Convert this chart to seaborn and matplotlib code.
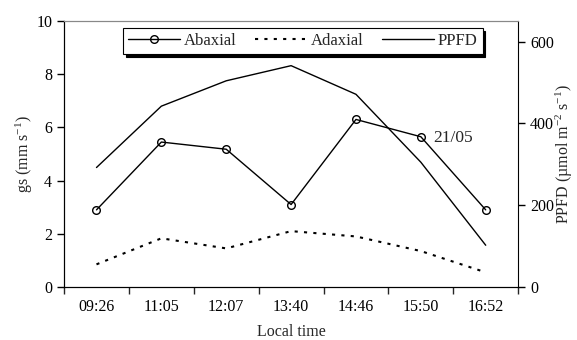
import matplotlib
matplotlib.use("Agg")
import matplotlib.pyplot as plt
import seaborn as sns
import pandas as pd
from matplotlib.ticker import FixedLocator

times = ["09:26", "11:05", "12:07", "13:40", "14:46", "15:50", "16:52"]
abaxial = [2.9, 5.45, 5.18, 3.1, 6.3, 5.65, 2.9]
adaxial = [0.85, 1.83, 1.45, 2.1, 1.9, 1.35, 0.55]
ppfd = [292, 442, 504, 541, 471, 305, 102]

sns.set_style("white")
plt.rcParams['font.family'] = ['Liberation Serif', 'DejaVu Serif']
plt.rcParams['mathtext.fontset'] = 'custom'
plt.rcParams['mathtext.rm'] = 'Liberation Serif'
plt.rcParams['mathtext.it'] = 'Liberation Serif'

df = pd.DataFrame({"time": times, "Abaxial": abaxial, "Adaxial": adaxial, "PPFD": ppfd})

fig = plt.figure(figsize=(5.77, 3.40), dpi=100)
ax = fig.add_axes([0.111, 0.156, 0.787, 0.782])
ax2 = ax.twinx()

sns.lineplot(data=df, x="time", y="Abaxial", ax=ax, color="black", lw=1,
             marker="o", markersize=5.5, markerfacecolor="none",
             markeredgecolor="black", markeredgewidth=1, label="Abaxial", legend=False)
sns.lineplot(data=df, x="time", y="Adaxial", ax=ax, color="black", lw=1.5,
             linestyle=(0, (1.5, 3)), label="Adaxial", legend=False)
sns.lineplot(data=df, x="time", y="PPFD", ax=ax2, color="black", lw=1,
             label="PPFD", legend=False)

ax.set_xlim(-0.5, 6.5)
ax.set_ylim(0, 10)
ax2.set_ylim(0, 650)
ax.set_yticks([0, 2, 4, 6, 8, 10])
ax2.set_yticks([0, 200, 400, 600])
ax.set_xticks(range(len(times)))
ax.set_xticklabels(times)
ax.xaxis.set_minor_locator(FixedLocator([i - 0.5 for i in range(len(times) + 1)]))

for a in (ax, ax2):
    a.tick_params(labelsize=11.5, colors="black")
ax.tick_params(axis="x", which="major", length=0, pad=9)
ax.tick_params(axis="x", which="minor", length=5, width=1, direction="out", bottom=True)
ax.tick_params(axis="y", length=5, width=1, direction="out", left=True)
ax2.tick_params(axis="y", length=5, width=1, direction="out", right=True)

for s in ("left", "bottom"):
    ax.spines[s].set_color("black")
ax.spines["top"].set_color("#888888")
ax.spines["right"].set_visible(False)
ax2.spines["top"].set_color("#888888")
ax2.spines["right"].set_color("black")
ax2.spines["left"].set_color("black")
ax2.spines["bottom"].set_color("black")

ax.set_xlabel("Local time", fontsize=11.5, labelpad=6)
ax.set_ylabel("gs (mm s$^{-1}$)", fontsize=11.5, labelpad=1)
ax2.set_ylabel("PPFD (µmol m$^{-2}$ s$^{-1}$)", fontsize=11.5, labelpad=0)

ax.text(5.5, 5.6, "21/05", fontsize=12.5, ha="center", va="center")

h1, l1 = ax.get_legend_handles_labels()
h2, l2 = ax2.get_legend_handles_labels()
leg = ax2.legend(h1 + h2, l1 + l2, loc="upper center", bbox_to_anchor=(0.526, 0.974),
                 ncol=3, frameon=True, fancybox=False, fontsize=12,
                 shadow={"color": "black", "alpha": 1}, handlelength=3.1,
                 columnspacing=1.1, borderpad=0.3, handletextpad=0.25,
                 borderaxespad=0)
leg.get_frame().set_edgecolor("black")
leg.get_frame().set_linewidth(0.8)

fig.savefig("out.png", dpi=100)
